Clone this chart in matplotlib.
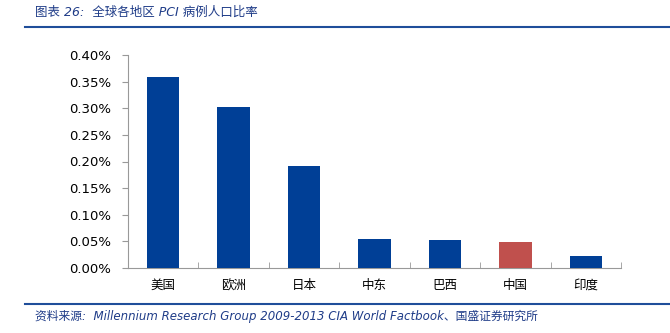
import matplotlib.pyplot as plt
import numpy as np
from matplotlib.lines import Line2D

plt.rcParams['font.family'] = ['Noto Sans CJK SC', 'DejaVu Sans']

regions = ['美国', '欧洲', '日本', '中东', '巴西', '中国', '印度']
rates = [0.359, 0.3026, 0.1917, 0.0545, 0.0526, 0.049, 0.0226]  # percent
colors = ['#003F96'] * 5 + ['#C0504D'] + ['#003F96']
yticks = [0.0, 0.05, 0.10, 0.15, 0.20, 0.25, 0.30, 0.35, 0.40]

fig = plt.figure(figsize=(6.7, 3.33), dpi=100)
ax = fig.add_axes([128 / 670, 1 - 268 / 333, 493 / 670, 213 / 333])

x = np.arange(len(regions))
ax.bar(x, rates, width=0.46, color=colors, zorder=3)

ax.set_xlim(-0.5, len(regions) - 0.5)
ax.set_ylim(0, 0.40)
ax.set_yticks(yticks)
ax.set_yticklabels([f'{v:.2f}%' for v in yticks], fontsize=9.5, family='DejaVu Sans')
ax.set_xticks(x)
ax.set_xticklabels(regions, fontsize=9)
ax.tick_params(axis='x', length=0, pad=8)
ax.set_xticks(np.arange(-0.5, len(regions)), minor=True)
ax.tick_params(axis='x', which='minor', direction='in', length=4, color='#999999')
ax.tick_params(axis='y', direction='out', length=4, color='#999999', pad=8)

for s in ['top', 'right']:
    ax.spines[s].set_visible(False)
for s in ['left', 'bottom']:
    ax.spines[s].set_color('#999999')
    ax.spines[s].set_linewidth(0.8)

navy = '#1F3C88'
mixed = ['DejaVu Sans', 'Noto Sans CJK SC']
fig.text(35 / 670, 1 - 12 / 333, '图表 26:  全球各地区 PCI 病例人口比率', fontsize=9,
         color=navy, style='italic', va='center', family=mixed)
fig.add_artist(Line2D([25 / 670, 1], [1 - 27 / 333] * 2, color='#1F4E9A', lw=1.5))
fig.add_artist(Line2D([25 / 670, 1], [1 - 304 / 333] * 2, color='#1F4E9A', lw=1.5))
fig.text(35 / 670, 1 - 316 / 333,
         '资料来源:  Millennium Research Group 2009-2013 CIA World Factbook、国盛证券研究所',
         fontsize=8.5, color=navy, style='italic', va='center', family=mixed)

fig.savefig('out.png', dpi=100)
